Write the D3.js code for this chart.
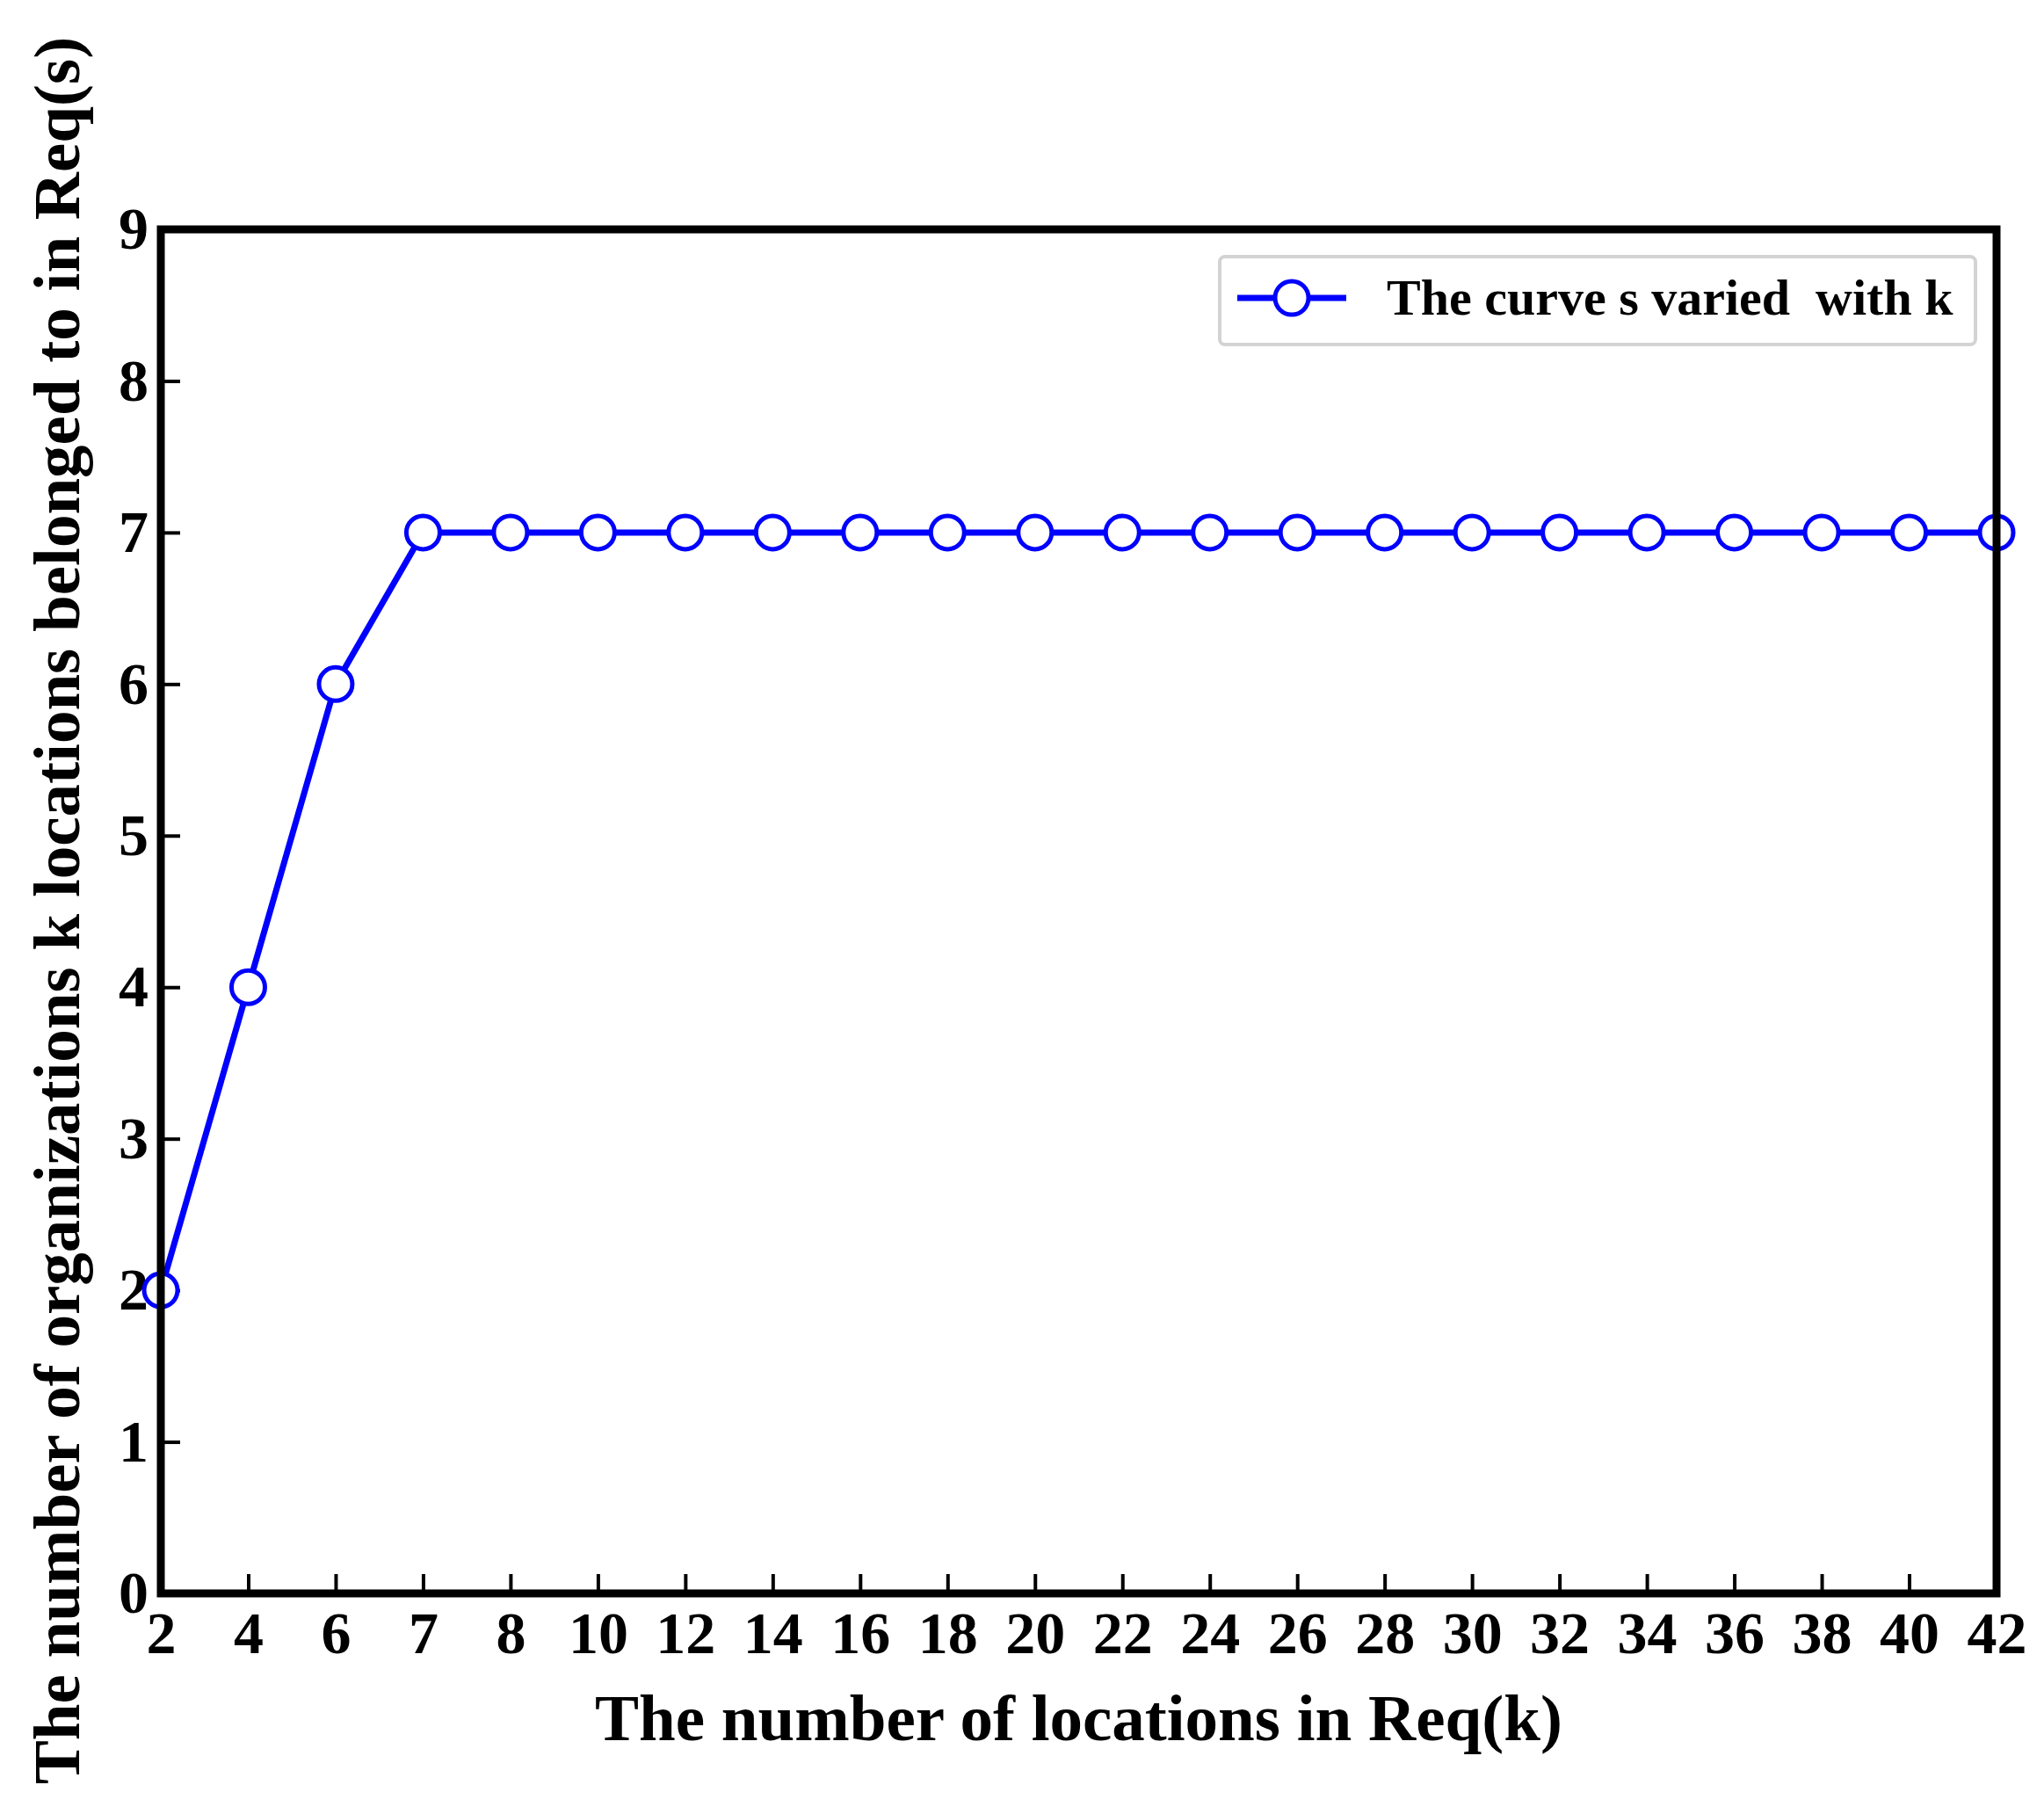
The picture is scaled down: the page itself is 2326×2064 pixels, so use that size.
<!DOCTYPE html>
<html><head><meta charset="utf-8">
<script src="https://cdn.jsdelivr.net/npm/d3@7"></script>
<style>body{margin:0;background:#fff}</style></head>
<body><svg id="c" width="2326" height="2064"></svg>
<script>
const categories=["2","4","6","7","8","10","12","14","16","18","20","22","24","26","28","30","32","34","36","38","40","42"];
const values=[2,4,6,7,7,7,7,7,7,7,7,7,7,7,7,7,7,7,7,7,7,7];
const yTicks=[0,1,2,3,4,5,6,7,8,9];
const seriesName="The curve s varied  with k";
const W=2326,H=2064,m={l:183,r:2272,t:261,b:1813};
const svg=d3.select("#c");
const font="'Liberation Serif','Times New Roman',serif";
const x=d3.scalePoint().domain(categories).range([m.l,m.r]);
const y=d3.scaleLinear().domain([0,9]).range([m.b,m.t]);
const xa=svg.append("g").attr("transform",`translate(0,${m.b})`).call(d3.axisBottom(x).tickSizeInner(-22).tickSizeOuter(0).tickPadding(20));
const ya=svg.append("g").attr("transform",`translate(${m.l},0)`).call(d3.axisLeft(y).tickValues(yTicks).tickSizeInner(-22).tickSizeOuter(0).tickPadding(14));
[xa,ya].forEach(a=>{a.select(".domain").remove();a.selectAll("line").attr("stroke","#000").attr("stroke-width",4);
 a.selectAll("text").attr("font-family",font).attr("font-weight","bold").attr("font-size",68).attr("fill","#000");});
xa.selectAll("text").attr("dy","0.71em");
const line=d3.line().x((d,i)=>x(categories[i])).y(d=>y(d));
svg.append("path").datum(values).attr("d",line).attr("fill","none").attr("stroke","#0000ff").attr("stroke-width",7);
svg.append("g").selectAll("circle").data(values).join("circle").attr("cx",(d,i)=>x(categories[i])).attr("cy",d=>y(d)).attr("r",19).attr("fill","#fff").attr("stroke","#0000ff").attr("stroke-width",5);
svg.append("rect").attr("x",m.l).attr("y",m.t).attr("width",m.r-m.l).attr("height",m.b-m.t).attr("fill","none").attr("stroke","#000").attr("stroke-width",9);
// legend
const lg=svg.append("g");
lg.append("rect").attr("x",1388).attr("y",292).attr("width",860).attr("height",100).attr("rx",6).attr("fill","#fff").attr("stroke","#d3d3d3").attr("stroke-width",4);
lg.append("line").attr("x1",1408).attr("x2",1532).attr("y1",339).attr("y2",339).attr("stroke","#0000ff").attr("stroke-width",7);
lg.append("circle").attr("cx",1470).attr("cy",339).attr("r",19).attr("fill","#fff").attr("stroke","#0000ff").attr("stroke-width",5);
lg.append("text").attr("x",1578).attr("y",358).attr("font-family",font).attr("font-weight","bold").attr("font-size",58).attr("xml:space","preserve").text(seriesName);
svg.append("text").attr("x",(m.l+m.r)/2).attr("y",1980).attr("text-anchor","middle").attr("font-family",font).attr("font-weight","bold").attr("font-size",75).text("The number of locations in Req(k)");
svg.append("text").attr("transform",`translate(90,1036) rotate(-90)`).attr("text-anchor","middle").attr("font-family",font).attr("font-weight","bold").attr("font-size",75).text("The number of organizations k locations belonged to in Req(s)");
</script></body></html>
